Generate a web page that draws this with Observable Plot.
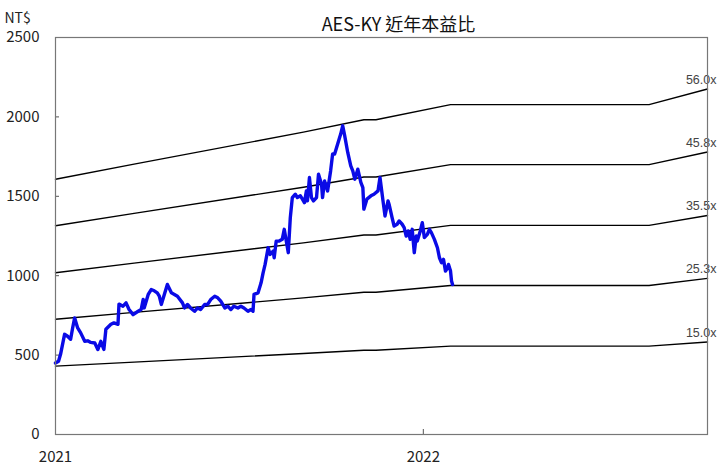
<!DOCTYPE html>
<html>
<head>
<meta charset="utf-8">
<script src="https://cdn.jsdelivr.net/npm/d3@7"></script>
<script src="https://cdn.jsdelivr.net/npm/@observablehq/plot@0.6"></script>
<style>
  html, body { margin: 0; padding: 0; background: #fff; }
  #chart { width: 720px; height: 471px; }
</style>
</head>
<body>
<div id="chart"></div>
<script>
const chartTitle = "AES-KY 近年本益比";
const unitLabel = "NT$";

const priceDates = [
  "2021-01-01","2021-01-04","2021-01-06","2021-01-10","2021-01-13","2021-01-16","2021-01-18","2021-01-20","2021-01-23","2021-01-26",
  "2021-01-30","2021-02-02","2021-02-05","2021-02-09","2021-02-12","2021-02-15","2021-02-18","2021-02-20","2021-02-25","2021-02-28",
  "2021-03-04","2021-03-05","2021-03-09","2021-03-12","2021-03-15","2021-03-19","2021-03-24","2021-03-27","2021-03-29","2021-03-30",
  "2021-04-03","2021-04-06","2021-04-09","2021-04-12","2021-04-14","2021-04-16","2021-04-19","2021-04-22","2021-04-26","2021-04-29",
  "2021-05-02","2021-05-07","2021-05-09","2021-05-12","2021-05-15","2021-05-19","2021-05-22","2021-05-25","2021-05-29","2021-06-01",
  "2021-06-04","2021-06-08","2021-06-11","2021-06-14","2021-06-18","2021-06-21","2021-06-24","2021-06-27","2021-07-01","2021-07-04",
  "2021-07-07","2021-07-11","2021-07-14","2021-07-16","2021-07-17","2021-07-21","2021-07-24","2021-07-26","2021-07-28","2021-07-31",
  "2021-08-02","2021-08-05","2021-08-06","2021-08-08","2021-08-11","2021-08-14","2021-08-16","2021-08-18","2021-08-20","2021-08-22",
  "2021-08-24","2021-08-27","2021-08-29","2021-09-01","2021-09-03","2021-09-05","2021-09-07","2021-09-08","2021-09-10","2021-09-12",
  "2021-09-14","2021-09-17","2021-09-19","2021-09-22","2021-09-23","2021-09-25","2021-09-28","2021-10-01","2021-10-03","2021-10-05",
  "2021-10-08","2021-10-11","2021-10-13","2021-10-15","2021-10-18","2021-10-21","2021-10-23","2021-10-25","2021-10-28","2021-10-31",
  "2021-11-02","2021-11-03","2021-11-06","2021-11-10","2021-11-13","2021-11-17","2021-11-19","2021-11-22","2021-11-24","2021-11-27",
  "2021-11-28","2021-12-01","2021-12-03","2021-12-06","2021-12-08","2021-12-11","2021-12-13","2021-12-15","2021-12-17","2021-12-19",
  "2021-12-21","2021-12-23","2021-12-25","2021-12-26","2021-12-29","2021-12-31","2022-01-02","2022-01-05","2022-01-07","2022-01-09",
  "2022-01-12","2022-01-15","2022-01-17","2022-01-19","2022-01-21","2022-01-23","2022-01-25","2022-01-26","2022-01-28","2022-01-29",
  "2022-01-30"
];
const prices = [
  450,461,505,631,619,600,671,734,671,640,
  587,590,580,576,535,587,536,663,694,703,
  694,821,808,829,787,755,776,787,850,797,
  882,913,905,892,871,819,882,945,892,882,
  871,829,797,819,797,776,797,787,819,819,
  850,871,861,840,797,808,787,808,797,808,
  797,776,787,776,882,892,955,1018,1071,1176,
  1134,1155,1113,1218,1218,1229,1292,1218,1145,1366,
  1492,1513,1492,1503,1482,1460,1534,1471,1618,1492,
  1471,1492,1639,1576,1492,1597,1534,1660,1766,1766,
  1829,1892,1944,1881,1776,1692,1660,1608,1671,1587,
  1555,1419,1482,1503,1513,1534,1618,1471,1376,1471,
  1450,1366,1313,1324,1345,1324,1303,1250,1282,1229,
  1292,1145,1250,1218,1282,1334,1240,1260,1292,1271,
  1229,1176,1113,1082,1103,1029,1050,1071,1029,966,
  945
];

const epsDates = ["2021-01-01","2021-03-20","2021-09-04","2021-11-03","2021-11-15","2022-01-28","2022-08-13","2022-10-10"];
const epsValues = [28.7, 30.4, 34.0, 35.4, 35.4, 37.1, 37.1, 38.85];
const multiples = [15.0, 25.3, 35.5, 45.8, 56.0];
const multipleLabels = ["15.0x", "25.3x", "35.5x", "45.8x", "56.0x"];

const yTicks = [0, 500, 1000, 1500, 2000, 2500];
const xTickDates = ["2021-01-01", "2022-01-01"];
const xTickLabels = ["2021", "2022"];
const xDomain = ["2021-01-01", "2022-10-10"];

const parse = d3.utcParse("%Y-%m-%d");
const priceData = priceDates.map((d, i) => ({date: parse(d), price: prices[i]}));
const bandData = multiples.flatMap((m, j) =>
  epsDates.map((d, i) => ({date: parse(d), value: epsValues[i] * m, band: multipleLabels[j]})));
const lastDate = parse(epsDates[epsDates.length - 1]);
const lastEps = epsValues[epsValues.length - 1];
const labelData = multiples.map((m, j) => ({date: lastDate, value: lastEps * m, text: multipleLabels[j]}));
const xTicks = xTickDates.map(parse);
const xLabelMap = new Map(xTickDates.map((d, i) => [+parse(d), xTickLabels[i]]));

const W = 720, H = 471;
const mTop = 37, mBottom = 37, mLeft = 55, mRight = 13;
const innerW = W - mLeft - mRight, innerH = H - mTop - mBottom;
const font = "'Noto Sans CJK TC', 'Noto Sans', sans-serif";

const chart = Plot.plot({
  width: W,
  height: H,
  marginTop: mTop,
  marginBottom: mBottom,
  marginLeft: mLeft,
  marginRight: mRight,
  style: {fontFamily: font, fontSize: "15px", color: "#222", background: "#fff", overflow: "visible"},
  x: {type: "utc", domain: xDomain.map(parse)},
  y: {domain: [0, 2500]},
  marks: [
    Plot.axisY(yTicks, {tickSize: 0, tickPadding: 16, fontSize: 15, label: null, tickFormat: d => String(d)}),
    Plot.axisX(xTicks, {tickSize: 0, tickPadding: 17, fontSize: 15, label: null, tickFormat: d => xLabelMap.get(+d)}),
    Plot.tickY(yTicks, {y: d => d, stroke: "#555", insetRight: innerW - 4}),
    Plot.tickX(xTicks.slice(1), {x: d => d, stroke: "#555", insetTop: innerH - 5}),
    Plot.line(bandData, {x: "date", y: "value", z: "band", stroke: "#000", strokeWidth: 1.4}),
    Plot.line(priceData, {x: "date", y: "price", stroke: "#0a0ae6", strokeWidth: 3.4, strokeLinejoin: "round"}),
    Plot.text(labelData, {x: "date", y: "value", text: "text", textAnchor: "end", dx: 9, dy: -9, fill: "#444", fontSize: 12.5, fontFamily: "'Liberation Sans', Arial, sans-serif"}),
    Plot.frame({stroke: "#777", strokeWidth: 1.2}),
    Plot.text([chartTitle], {frameAnchor: "top", dx: 17, dy: -19, fontSize: 18, fill: "#111"}),
    Plot.text([unitLabel], {frameAnchor: "top-left", textAnchor: "start", dx: -51, dy: -24, fontSize: 14, fill: "#222"})
  ]
});
document.getElementById("chart").appendChild(chart);
</script>
</body>
</html>
